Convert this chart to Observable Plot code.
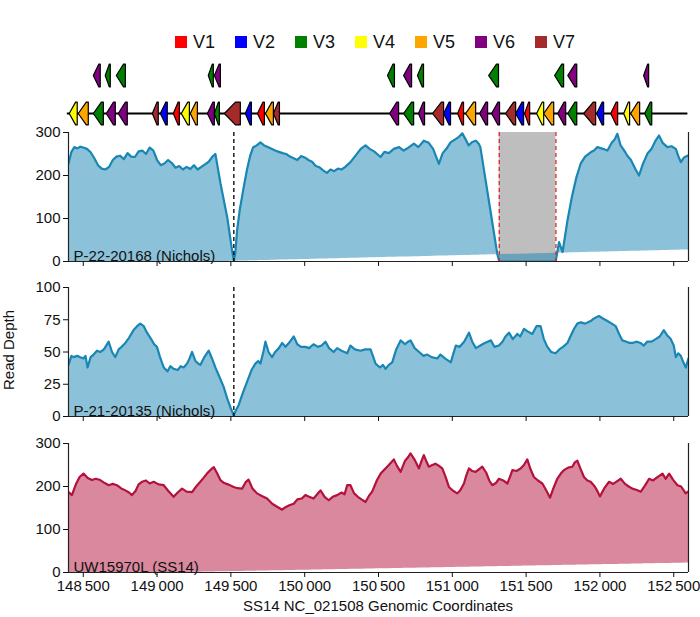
<!DOCTYPE html>
<html><head><meta charset="utf-8">
<script src="https://cdn.jsdelivr.net/npm/d3@7"></script>
<script src="https://cdn.jsdelivr.net/npm/@observablehq/plot@0.6"></script>
<style>
body{margin:0;background:#fff;font-family:"Liberation Sans",Arial,sans-serif;}
#root{position:relative;width:700px;height:617px;overflow:hidden;}
.abs{position:absolute;left:0;}
#legend{position:absolute;top:31px;left:25px;width:700px;display:flex;justify-content:center;align-items:center;font-size:18px;color:#111;line-height:22px;}
.item{display:flex;align-items:center;margin:0 10px;}
.sw{width:12px;height:12px;margin-right:6px;}
#xlab{position:absolute;left:68px;width:620px;top:597px;text-align:center;font-size:15px;color:#111;}
#ylab{position:absolute;left:8px;top:350px;transform:translate(-50%,-50%) rotate(-90deg);font-size:15px;white-space:nowrap;color:#111;}
</style></head>
<body><div id="root"><div id="legend"></div><div id="xlab">SS14 NC_021508 Genomic Coordinates</div><div id="ylab">Read Depth</div></div>
<script>
// ---------- data ----------
const variantNames = ["V1","V2","V3","V4","V5","V6","V7"];
const variantColors = ["#ff0000","#0000ff","#008000","#ffff00","#ffa500","#800080","#a52a2a"];

// genes: [start, end, variant]  (all on minus strand, arrows point left)
const genesMain = [
 [148405,148459,"V4"],[148466,148534,"V5"],[148568,148636,"V3"],[148656,148717,"V6"],[148737,148798,"V6"],
 [148968,149008,"V7"],[149022,149069,"V2"],[149110,149151,"V1"],[149164,149219,"V4"],[149225,149273,"V5"],
 [149341,149388,"V6"],[149388,149422,"V3"],[149456,149564,"V7"],[149598,149639,"V2"],[149680,149727,"V1"],
 [149734,149788,"V5"],[149788,149829,"V7"],
 [150575,150636,"V6"],[150670,150738,"V3"],[150771,150812,"V6"],[150866,150941,"V7"],[150941,150988,"V2"],
 [151036,151076,"V1"],[151090,151158,"V5"],[151185,151239,"V6"],[151266,151320,"V6"],[151361,151429,"V7"],
 [151429,151483,"V2"],[151490,151524,"V1"],[151571,151619,"V4"],[151619,151687,"V5"],[151714,151768,"V6"],
 [151782,151843,"V3"],[151890,151971,"V7"],[151978,152025,"V2"],[152073,152120,"V1"],[152161,152201,"V4"],
 [152208,152269,"V5"],[152303,152351,"V3"]
];
const genesUpper = [
 [148568,148615,"V6"],[148649,148683,"V3"],[148724,148785,"V3"],[149347,149381,"V3"],[149388,149429,"V6"],
 [150561,150608,"V3"],[150670,150724,"V6"],[150764,150805,"V3"],[151246,151313,"V3"],[151693,151754,"V3"],
 [151782,151843,"V6"],[152296,152330,"V6"]
];
const trackSpan = [148392,152596];

const xTicks = [148500,149000,149500,150000,150500,151000,151500,152000,152500];

// Panel 1: P-22-20168 (Nichols)  [position, depth]
const p1 = [[148400,228],[148420,255],[148440,266],[148460,263],[148480,267],[148500,265],[148525,262],[148550,254],[148575,240],[148600,224],[148625,216],[148650,214],[148675,220],[148700,236],[148725,244],[148750,246],[148775,238],[148800,252],[148825,244],[148850,243],[148875,256],[148900,258],[148925,250],[148950,265],[148975,258],[149000,236],[149025,224],[149050,228],[149075,236],[149100,229],[149125,218],[149150,222],[149175,214],[149200,220],[149225,215],[149250,224],[149275,214],[149300,220],[149325,226],[149350,232],[149375,244],[149395,250],[149430,181],[149475,103],[149508,26],[149520,2],[149530,20],[149542,72],[149560,120],[149587,173],[149610,215],[149630,245],[149650,265],[149675,270],[149700,277],[149725,270],[149750,266],[149775,262],[149800,258],[149825,255],[149850,252],[149875,250],[149900,244],[149925,240],[149950,236],[149975,245],[150000,242],[150025,236],[150050,232],[150075,222],[150100,219],[150125,212],[150150,206],[150175,214],[150200,210],[150225,216],[150250,214],[150275,220],[150310,231],[150355,251],[150380,262],[150412,270],[150440,262],[150470,256],[150514,243],[150540,255],[150570,252],[150604,262],[150640,266],[150670,258],[150700,264],[150740,274],[150770,266],[150807,281],[150840,276],[150870,262],[150909,227],[150935,252],[150960,262],[150988,277],[151020,284],[151045,290],[151068,298],[151090,284],[151111,270],[151135,278],[151160,281],[151179,274],[151190,266],[151220,201],[151250,136],[151280,71],[151305,17],[151318,0],[151700,0],[151723,45],[151747,22],[151780,95],[151810,150],[151840,195],[151870,228],[151900,244],[151937,254],[151960,258],[151983,266],[152020,262],[152051,258],[152080,276],[152100,284],[152118,297],[152140,270],[152165,258],[152186,246],[152210,236],[152240,215],[152265,200],[152290,226],[152322,251],[152350,262],[152375,280],[152400,293],[152425,276],[152457,266],[152485,268],[152514,262],[152530,246],[152548,231],[152570,242],[152593,246],[152600,246]];

// Panel 2: P-21-20135 (Nichols)
const p2 = [[148400,40],[148420,47],[148434,46],[148460,47],[148480,46],[148502,45],[148515,47],[148529,38],[148550,46],[148570,48],[148593,51],[148615,50],[148640,52],[148672,58],[148695,50],[148717,46],[148740,52],[148760,54],[148785,57],[148810,61],[148841,67],[148865,70],[148886,72],[148910,70],[148932,65],[148960,60],[148980,56],[148999,54],[149020,46],[149045,38],[149070,35],[149090,39],[149112,37],[149140,36],[149160,39],[149180,38],[149203,41],[149220,45],[149237,50],[149260,43],[149280,41],[149293,40],[149320,46],[149350,51],[149372,45],[149395,38],[149425,30],[149451,23],[149475,14],[149497,7],[149519,1],[149535,5],[149553,9],[149580,18],[149610,27],[149640,36],[149666,41],[149685,43],[149700,41],[149720,50],[149734,58],[149755,50],[149779,46],[149800,50],[149825,53],[149847,57],[149870,54],[149900,58],[149926,62],[149950,56],[149975,54],[150005,54],[150030,53],[150060,56],[150090,54],[150115,55],[150141,58],[150165,53],[150196,50],[150220,53],[150250,51],[150288,49],[150310,55],[150340,52],[150378,51],[150410,52],[150446,52],[150465,46],[150480,41],[150510,38],[150530,40],[150548,37],[150570,40],[150593,42],[150620,52],[150650,59],[150680,56],[150700,58],[150717,59],[150745,53],[150775,50],[150805,47],[150830,48],[150860,46],[150898,45],[150920,48],[150950,45],[150990,42],[151005,48],[151024,55],[151050,54],[151080,58],[151113,65],[151135,58],[151160,53],[151190,55],[151220,57],[151262,59],[151285,54],[151316,55],[151340,58],[151360,62],[151384,65],[151410,60],[151440,64],[151460,62],[151486,68],[151510,66],[151542,64],[151570,70],[151598,70],[151620,60],[151644,54],[151670,50],[151700,49],[151725,52],[151750,54],[151780,57],[151800,62],[151825,68],[151847,72],[151870,73],[151900,72],[151937,74],[151960,76],[151993,78],[152020,76],[152051,74],[152080,72],[152107,70],[152130,64],[152152,59],[152180,58],[152200,57],[152220,57],[152250,58],[152275,57],[152297,55],[152320,58],[152350,58],[152378,60],[152405,62],[152433,67],[152455,63],[152480,60],[152500,55],[152514,46],[152530,49],[152548,47],[152565,42],[152582,38],[152597,44],[152600,45]];

// Panel 3: UW15970L (SS14)
const p3 = [[148400,187],[148423,180],[148450,205],[148475,222],[148502,230],[148530,220],[148559,215],[148585,218],[148615,215],[148645,208],[148672,203],[148700,206],[148728,203],[148755,196],[148785,191],[148810,186],[148830,180],[148855,190],[148875,205],[148898,211],[148925,214],[148950,207],[148977,211],[149010,205],[149045,203],[149075,190],[149112,176],[149140,186],[149169,195],[149200,188],[149237,187],[149265,200],[149293,211],[149315,220],[149338,230],[149360,238],[149384,245],[149405,232],[149429,215],[149455,208],[149480,205],[149519,199],[149545,196],[149576,195],[149600,210],[149620,216],[149645,196],[149677,184],[149710,178],[149745,172],[149780,160],[149813,153],[149847,146],[149870,152],[149900,157],[149926,160],[149950,170],[149980,172],[150005,180],[150030,176],[150060,172],[150085,182],[150107,191],[150135,176],[150163,168],[150190,176],[150220,180],[150250,186],[150270,182],[150288,203],[150310,203],[150335,184],[150360,176],[150385,170],[150412,164],[150435,178],[150457,188],[150490,215],[150515,230],[150536,238],[150570,250],[150604,263],[150625,248],[150650,234],[150680,260],[150700,268],[150717,277],[150745,262],[150774,242],[150790,258],[150807,273],[150825,258],[150841,246],[150865,250],[150886,253],[150910,248],[150932,242],[150955,222],[150977,199],[151005,190],[151034,184],[151055,192],[151079,207],[151095,226],[151113,242],[151135,236],[151158,234],[151180,240],[151203,246],[151230,232],[151250,214],[151271,203],[151295,208],[151316,218],[151345,214],[151373,207],[151390,222],[151407,238],[151435,236],[151463,242],[151485,250],[151508,263],[151530,240],[151553,222],[151580,214],[151610,207],[151635,192],[151662,174],[151685,196],[151711,218],[151735,230],[151756,238],[151785,244],[151813,246],[151830,256],[151847,260],[151870,240],[151892,222],[151915,214],[151937,211],[151965,200],[151985,188],[152000,177],[152030,196],[152062,211],[152090,206],[152115,212],[152141,218],[152170,206],[152195,200],[152220,195],[152250,192],[152277,188],[152305,202],[152333,218],[152360,214],[152390,222],[152424,230],[152445,218],[152469,230],[152495,216],[152525,203],[152550,200],[152581,184],[152597,188],[152600,188]];

// annotations
const nicholsDeletion = 149520;             // dashed black marker (panels 1 & 2)
const gapRegion = [{x1:151318, x2:151702}]; // grey region panel 1
const gapEdges = [151318, 151702];          // red dashed marker lines

// slanted fill baseline endpoints: [x, y]
const base1 = [[148400,-9],[152600,27]];
const base2 = [[148400,0],[152600,0]];
const base3 = [[148400,-5],[152600,22]];

const xDomain = [148400,152600];

// ---------- drawing ----------
const root = document.getElementById("root");
const colorOf = Object.fromEntries(variantNames.map((v,i)=>[v,variantColors[i]]));
const FONT = '"Liberation Sans", Arial, sans-serif';
const fmt = d3.formatLocale({decimal:".", thousands:"\u2009", grouping:[3], currency:["",""]}).format(",d");

// legend
const lg = document.getElementById("legend");
variantNames.forEach((v,i)=>{
  const it = document.createElement("div"); it.className="item";
  it.innerHTML = `<div class="sw" style="background:${variantColors[i]}"></div><span>${v}</span>`;
  lg.appendChild(it);
});

function place(svg, top){ svg.classList.add("abs"); svg.style.top = top+"px"; root.appendChild(svg); }

// gene track
function arrowPts(g, row){
  const [s,e] = g; const h = 0.3; const head = Math.min(0.8*(e-s), 75);
  return [[s,row],[s+head,row+h],[e,row+h],[e,row-h],[s+head,row-h]].map(([x,y])=>({x,y}));
}
const geneMarks = [
  Plot.ruleY([0], {x1: trackSpan[0], x2: trackSpan[1], stroke:"black", strokeWidth:2})
];
genesMain.forEach(g=>geneMarks.push(Plot.line(arrowPts(g,0),{x:"x",y:"y",fill:colorOf[g[2]],stroke:"black",strokeWidth:1.2,curve:"linear-closed"})));
genesUpper.forEach(g=>geneMarks.push(Plot.line(arrowPts(g,1),{x:"x",y:"y",fill:colorOf[g[2]],stroke:"black",strokeWidth:1.2,curve:"linear-closed"})));
place(Plot.plot({
  width:700, height:75, marginLeft:68, marginRight:12, marginTop:0, marginBottom:0,
  x:{domain:xDomain, axis:null}, y:{domain:[0,1], range:[58,20], axis:null},
  marks: geneMarks
}), 55);

function panel(o){
  const data = o.pts.map(([x,y])=>({x, y}));
  const bs = d3.scaleLinear().domain(o.base.map(d=>d[0])).range(o.base.map(d=>d[1]));
  const marks = [];
  if (o.gap) marks.push(Plot.rect(gapRegion,{x1:"x1",x2:"x2",y1:0,y2:o.yMax,fill:"#bebebe"}));
  marks.push(Plot.areaY(data,{x:"x", y1:d=>bs(d.x), y2:"y", fill:o.color, fillOpacity:0.5, clip:true}));
  marks.push(Plot.line(data,{x:"x", y:"y", stroke:o.color, strokeWidth:2.2, clip:true}));
  if (o.gap) marks.push(Plot.ruleX(gapEdges,{stroke:"#e3261f", strokeWidth:1.3, strokeDasharray:"4,3"}));
  if (o.marker) marks.push(Plot.ruleX([nicholsDeletion],{stroke:"black", strokeWidth:1.3, strokeDasharray:"4,3"}));
  marks.push(Plot.ruleX([xDomain[0]],{stroke:"#222", strokeWidth:1.2}));
  marks.push(Plot.ruleX([xDomain[1]],{stroke:"#222", strokeWidth:1.2}));
  marks.push(Plot.ruleY([0],{stroke:"#222", strokeWidth:1.2}));
  marks.push(Plot.axisY({ticks:o.yTicks, tickSize:5, tickPadding:3, fontSize:15, label:null}));
  marks.push(Plot.axisX({ticks:xTicks, tickSize:5, tickPadding:3, fontSize:15, label:null,
     tickFormat: o.bottom ? fmt : () => ""}));
  marks.push(Plot.text([o.label],{frameAnchor:"bottom-left", dx:5, dy:-1, lineAnchor:"bottom", textAnchor:"start", fontSize:15, fill:"#111"}));
  return Plot.plot({
    width:700, height: o.bottom ? 170 : 149,
    marginLeft:68, marginRight:12, marginTop:10, marginBottom: o.bottom ? 31 : 10,
    style:{fontFamily:FONT, fontSize:"15px", color:"#111", background:"transparent"},
    x:{domain:xDomain}, y:{domain:[0,o.yMax]},
    marks
  });
}

place(panel({pts:p1, base:base1, yMax:300, yTicks:[0,100,200,300], color:"#1a86b4",
  label:"P-22-20168 (Nichols)", gap:true, marker:true}), 122);
place(panel({pts:p2, base:base2, yMax:100, yTicks:[0,25,50,75,100], color:"#1a86b4",
  label:"P-21-20135 (Nichols)", marker:true}), 277);
place(panel({pts:p3, base:base3, yMax:300, yTicks:[0,100,200,300], color:"#b4123c",
  label:"UW15970L (SS14)", bottom:true}), 433);
</script>
</body></html>
